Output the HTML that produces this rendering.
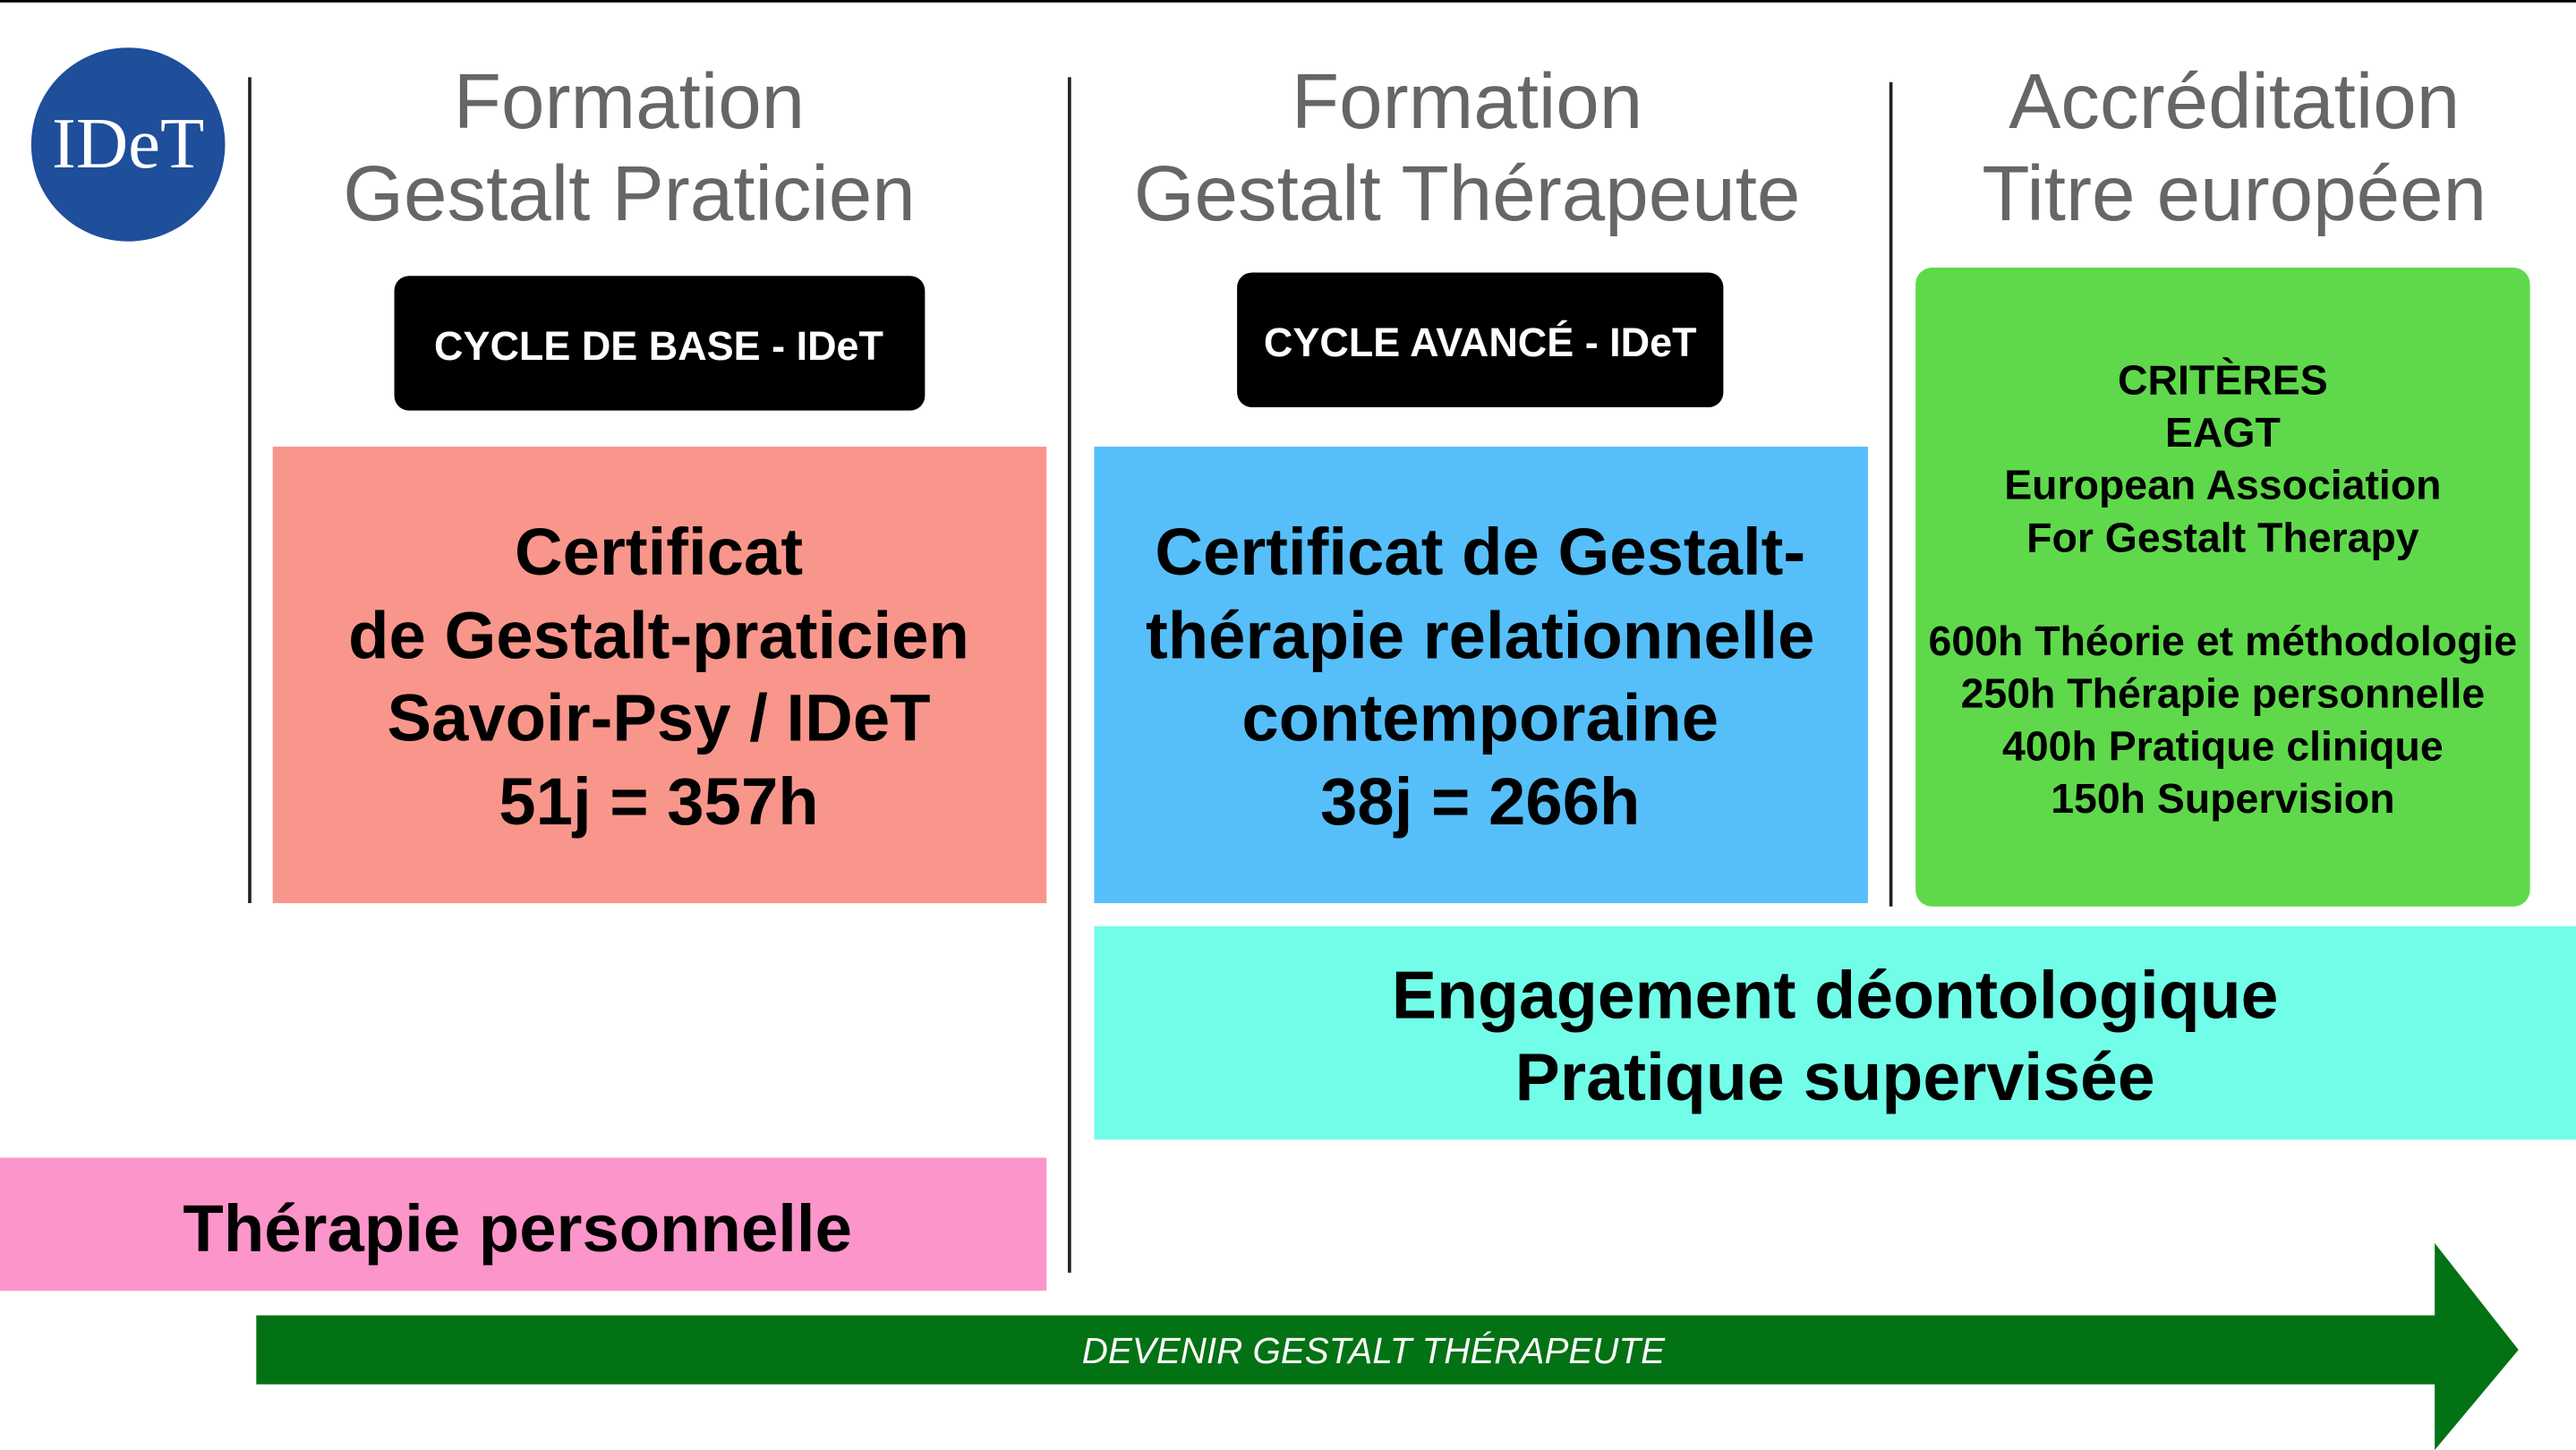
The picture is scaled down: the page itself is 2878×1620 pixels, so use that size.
<!DOCTYPE html>
<html><head><meta charset="utf-8"><style>
html,body{margin:0;padding:0;background:#fff;}
svg{display:block;}
text{font-family:"Liberation Sans","DejaVu Sans",sans-serif;}
</style></head><body>
<svg width="2878" height="1620" viewBox="0 0 1568 883" preserveAspectRatio="none" xmlns="http://www.w3.org/2000/svg">
<rect x="0" y="0" width="1568" height="883" fill="#fff"/>
<rect x="0" y="0" width="1568" height="1.5" fill="#000"/>
<circle cx="78" cy="88" r="59" fill="#1f4e9a"/>
<text x="78" y="102" text-anchor="middle" style="font-family:'Liberation Serif',serif" font-size="44" fill="#fff">IDeT</text>
<line x1="152" y1="47" x2="152" y2="550" stroke="#222" stroke-width="2"/>
<line x1="651" y1="47" x2="651" y2="775" stroke="#222" stroke-width="2"/>
<line x1="1151" y1="50" x2="1151" y2="552" stroke="#222" stroke-width="2"/>
<g fill="#666" font-size="47.5" text-anchor="middle">
<text x="383" y="78">Formation</text>
<text x="383" y="134">Gestalt Praticien</text>
<text x="893" y="78">Formation</text>
<text x="893" y="134">Gestalt Thérapeute</text>
<text x="1360" y="78">Accréditation</text>
<text x="1360" y="134">Titre européen</text>
</g>
<rect x="240" y="168" width="323" height="82" rx="9" fill="#000"/>
<text x="401" y="219" text-anchor="middle" font-size="24.5" font-weight="bold" fill="#fff">CYCLE DE BASE - IDeT</text>
<rect x="753" y="166" width="296" height="82" rx="9" fill="#000"/>
<text x="901" y="217" text-anchor="middle" font-size="24.5" font-weight="bold" fill="#fff">CYCLE AVANCÉ - IDeT</text>
<rect x="166" y="272" width="471" height="278" fill="#f9968b"/>
<g font-size="40.5" font-weight="bold" text-anchor="middle" fill="#000">
<text x="401" y="350">Certificat</text>
<text x="401" y="401">de Gestalt-praticien</text>
<text x="401" y="451">Savoir-Psy / IDeT</text>
<text x="401" y="502">51j = 357h</text>
</g>
<rect x="666" y="272" width="471" height="278" fill="#56bffa"/>
<g font-size="40.5" font-weight="bold" text-anchor="middle" fill="#000">
<text x="901" y="350">Certificat de Gestalt-</text>
<text x="901" y="401">thérapie relationnelle</text>
<text x="901" y="451">contemporaine</text>
<text x="901" y="502">38j = 266h</text>
</g>
<rect x="1166" y="163" width="374" height="389" rx="10" fill="#5fd94b"/>
<g font-size="25.3" font-weight="bold" text-anchor="middle" fill="#000">
<text x="1353" y="240">CRITÈRES</text>
<text x="1353" y="272">EAGT</text>
<text x="1353" y="304">European Association</text>
<text x="1353" y="336">For Gestalt Therapy</text>
<text x="1353" y="399">600h Théorie et méthodologie</text>
<text x="1353" y="431">250h Thérapie personnelle</text>
<text x="1353" y="463">400h Pratique clinique</text>
<text x="1353" y="495">150h Supervision</text>
</g>
<rect x="666" y="564" width="902" height="130" fill="#72fde8"/>
<g font-size="41" font-weight="bold" text-anchor="middle" fill="#000">
<text x="1117" y="620">Engagement déontologique</text>
<text x="1117" y="670">Pratique supervisée</text>
</g>
<rect x="0" y="705" width="637" height="81" fill="#fc95c9"/>
<text x="315" y="762" text-anchor="middle" font-size="40.5" font-weight="bold" fill="#000">Thérapie personnelle</text>
<rect x="156" y="801" width="1328" height="42" fill="#037214"/>
<polygon points="1482,757 1533,822 1482,883" fill="#037214"/>
<text x="836" y="830" text-anchor="middle" font-size="22" font-style="italic" fill="#fff">DEVENIR GESTALT THÉRAPEUTE</text>
</svg>
</body></html>
